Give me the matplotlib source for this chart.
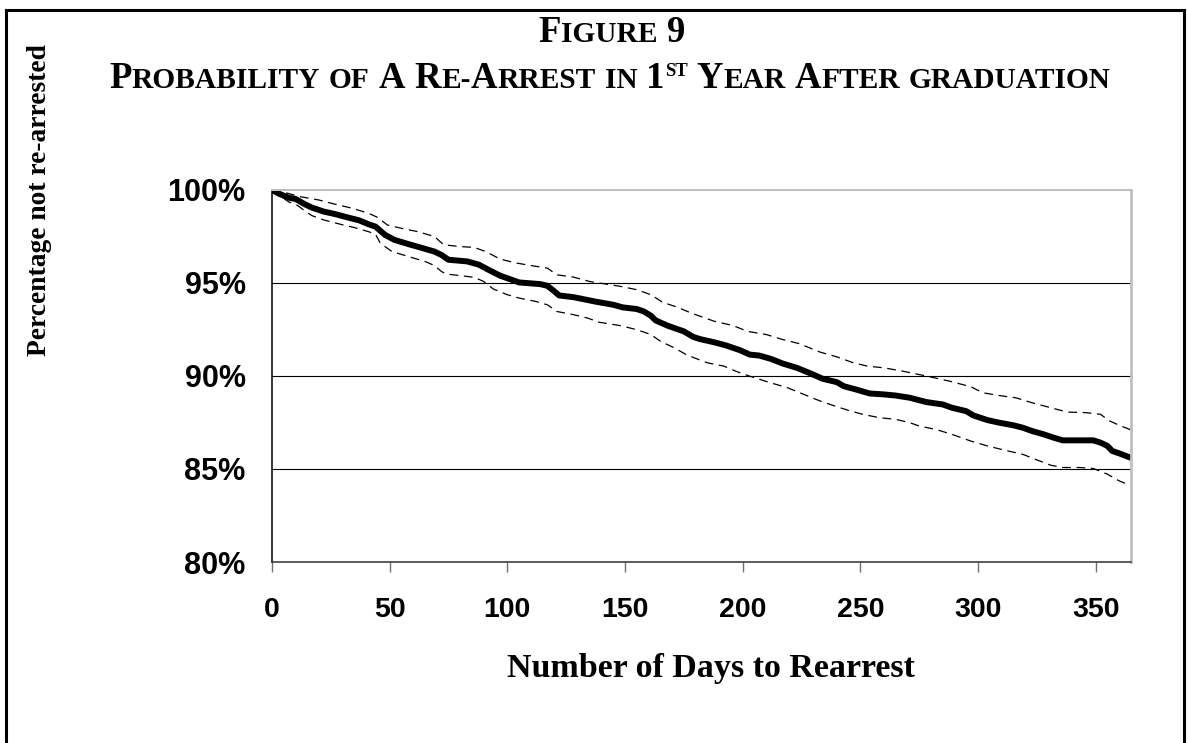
import matplotlib
matplotlib.use('Agg')
import matplotlib.pyplot as plt
from matplotlib.lines import Line2D
from matplotlib.ticker import FuncFormatter

# survival estimate (percentage not re-arrested) by day
main_days = [0, 3, 7, 10, 14, 17, 22, 27, 32, 37, 41, 44, 48, 52, 58, 63, 69, 72, 75, 83,
             88, 92, 97, 101, 105, 108, 114, 117, 120, 122, 128, 132, 137, 141, 145, 149, 155, 158, 161, 163,
             168, 172, 175, 179, 182, 188, 193, 199, 203, 207, 212, 217, 223, 229, 234, 240, 243, 248, 254, 260,
             265, 271, 278, 285, 289, 295, 298, 304, 309, 315, 319, 323, 328, 332, 336, 343, 349, 352, 355, 357,
             360, 365]
main_pct = [100.0, 99.8, 99.59, 99.52, 99.23, 99.05, 98.84, 98.70, 98.53, 98.37, 98.16, 98.03, 97.59, 97.32, 97.09, 96.91, 96.69, 96.51, 96.25, 96.16,
            95.98, 95.71, 95.39, 95.21, 95.03, 95.0, 94.94, 94.85, 94.55, 94.33, 94.24, 94.14, 94.01, 93.92, 93.83, 93.69, 93.60, 93.47, 93.24, 92.99,
            92.71, 92.53, 92.40, 92.10, 91.98, 91.81, 91.64, 91.38, 91.15, 91.10, 90.92, 90.67, 90.44, 90.13, 89.85, 89.67, 89.45, 89.28, 89.06, 89.01,
            88.95, 88.83, 88.60, 88.47, 88.29, 88.11, 87.88, 87.63, 87.49, 87.35, 87.22, 87.04, 86.86, 86.69, 86.54, 86.54, 86.54, 86.42, 86.24, 85.97,
            85.84, 85.6]

# upper confidence band
upper_days = [0, 5, 12, 20, 27, 34, 41, 45, 49, 55, 62, 69, 73, 80, 86, 91, 97, 104, 111, 117,
              121, 128, 135, 139, 148, 155, 161, 166, 172, 178, 188, 196, 202, 210, 217, 224, 233, 240, 247, 253,
              260, 268, 278, 288, 297, 302, 309, 316, 323, 331, 338, 346, 352, 356, 360, 365]
upper_pct = [100.0, 99.88, 99.64, 99.46, 99.23, 99.02, 98.75, 98.52, 98.12, 97.94, 97.76, 97.5, 97.05, 96.96, 96.91, 96.68, 96.28, 96.07, 95.92, 95.80,
             95.44, 95.32, 95.08, 95.0, 94.82, 94.64, 94.37, 93.96, 93.71, 93.39, 92.94, 92.71, 92.40, 92.23, 91.96, 91.74, 91.28, 91.03, 90.71, 90.53,
             90.44, 90.26, 90.0, 89.72, 89.42, 89.10, 88.95, 88.83, 88.56, 88.29, 88.06, 88.03, 87.94, 87.58, 87.35, 87.1]

# lower confidence band
lower_days = [0, 4, 7, 11, 14, 17, 22, 29, 35, 41, 44, 46, 51, 58, 65, 69, 72, 74, 80, 86,
              90, 94, 100, 105, 112, 117, 121, 128, 134, 139, 148, 155, 161, 165, 171, 176, 181, 185, 192, 197,
              203, 212, 219, 226, 233, 240, 246, 251, 258, 265, 271, 275, 282, 289, 297, 304, 311, 319, 325, 331,
              336, 343, 349, 355, 360, 365]
lower_pct = [100.0, 99.64, 99.37, 99.16, 98.87, 98.62, 98.39, 98.16, 97.98, 97.76, 97.62, 97.14, 96.69, 96.42, 96.16, 95.94, 95.62, 95.48, 95.40, 95.30,
             95.08, 94.68, 94.37, 94.19, 94.01, 93.83, 93.47, 93.30, 93.12, 92.89, 92.71, 92.49, 92.23, 91.87, 91.51, 91.15, 90.90, 90.71, 90.53, 90.26,
             89.99, 89.63, 89.37, 89.01, 88.65, 88.35, 88.11, 87.94, 87.76, 87.67, 87.49, 87.31, 87.13, 86.86, 86.50, 86.24, 86.02, 85.79, 85.49, 85.20,
             85.08, 85.08, 85.03, 84.72, 84.36, 84.1]

x_ticks = [0, 50, 100, 150, 200, 250, 300, 350]
y_ticks = [80, 85, 90, 95, 100]

# small caps markup: upper case = full cap, lower case = small cap, ^ = superscript
title_1 = "Figure 9"
title_2 = "Probability of A Re-Arrest in 1^st Year After graduation"
x_label = "Number of Days to Rearrest"
y_label = "Percentage not re-arrested"

W, H = 1188, 743
fig = plt.figure(figsize=(W / 100, H / 100), dpi=100)
fig.patch.set_facecolor('white')

ax = fig.add_axes([272 / W, (H - 562) / H, (1131 - 272) / W, (562 - 190) / H])
ax.plot(upper_days, upper_pct, color='black', lw=0.9, dashes=(7, 4.5))
ax.plot(lower_days, lower_pct, color='black', lw=0.9, dashes=(7, 4.5))
ax.plot(main_days, main_pct, color='black', lw=4.3, solid_joinstyle='round', solid_capstyle='butt')

ax.set_xlim(0, 365)
ax.set_ylim(80, 100)
ax.set_xticks(x_ticks)
ax.set_yticks(y_ticks)
ax.yaxis.set_major_formatter(FuncFormatter(lambda v, p: f"{v:.0f}%"))

ax.yaxis.grid(True, color='black', lw=0.8)
ax.get_ygridlines()[-1].set_visible(False)
ax.get_ygridlines()[0].set_visible(False)
ax.set_axisbelow(True)

for lab in ax.get_xticklabels() + ax.get_yticklabels():
    lab.set_family('Liberation Sans')
    lab.set_fontweight('bold')
ax.tick_params(axis='x', direction='out', length=7, width=1, color='#707070', pad=18, labelsize=20.5)
ax.tick_params(axis='y', length=0, pad=19, labelsize=22)

ax.spines['top'].set_color('#c0c0c0')
ax.spines['top'].set_linewidth(1.5)
ax.spines['right'].set_color('#c0c0c0')
ax.spines['right'].set_linewidth(2)
ax.spines['left'].set_color('black')
ax.spines['left'].set_linewidth(1.1)
ax.spines['bottom'].set_color('#303030')
ax.spines['bottom'].set_linewidth(1.1)

serif = 'Liberation Serif'
fig.text(711 / W, 1 - 677 / H, x_label, ha='center', va='baseline',
         fontsize=24.5, family=serif, fontweight='bold')
fig.text(40 / W, 1 - 200 / H, y_label, ha='center', va='center', rotation=90,
         fontsize=19.8, family=serif, fontweight='bold')

# page frame
for xs, ys in [([6, 6], [743, 10]), ([6, 1184], [10, 10]), ([1184, 1184], [10, 743])]:
    fig.add_artist(Line2D([x / W for x in xs], [1 - y / H for y in ys], color='black', lw=2.2))


def smallcaps_line(text, xc, y_base, big, small, sup):
    renderer = fig.canvas.get_renderer()
    sizes = {'big': big, 'small': small, 'sup': sup}
    space = 0.25 * big * 100 / 72
    pieces = []
    for word in text.split(' '):
        runs = []
        kind = 'big'
        in_sup = False
        for c in word:
            if c == '^':
                in_sup = True
                continue
            if in_sup:
                k = 'sup'
            elif c.isupper() or c.isdigit():
                k = 'big'
            elif c.islower():
                k = 'small'
            else:
                k = kind
            if runs and runs[-1][0] == k:
                runs[-1][1] += c.upper()
            else:
                runs.append([k, c.upper()])
            kind = k
        pieces.append(runs)

    arts = []
    total = 0
    for i, runs in enumerate(pieces):
        if i:
            total += space
        for k, s in runs:
            t = fig.text(0, 0, s, fontsize=sizes[k], family=serif, fontweight='bold',
                         va='baseline', ha='left')
            w = t.get_window_extent(renderer=renderer).width
            arts.append((t, k, total))
            total += w
    x0 = xc - total / 2
    lift = 0.662 * (big - sup) * 100 / 72
    for t, k, off in arts:
        dy = lift if k == 'sup' else 0
        t.set_position(((x0 + off) / W, 1 - (y_base - dy) / H))


smallcaps_line(title_1, 612, 42, 26.5, 21.2, 13.5)
smallcaps_line(title_2, 610, 88, 26.5, 21.2, 13.5)

fig.savefig('out.png', dpi=100, facecolor='white')
